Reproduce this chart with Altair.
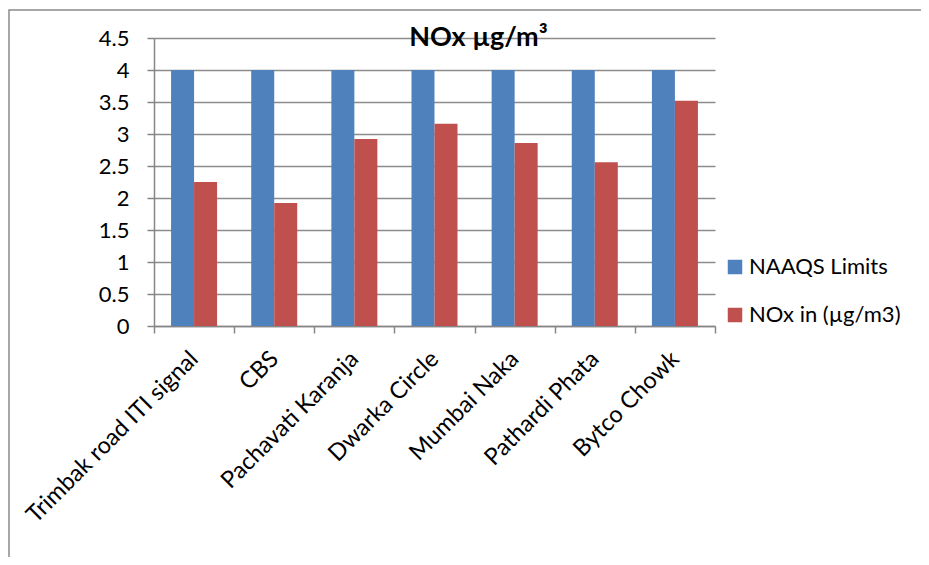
import altair as alt
import pandas as pd

sites = ["Trimbak road ITI signal", "CBS", "Pachavati Karanja", "Dwarka Circle",
         "Mumbai Naka", "Pathardi Phata", "Bytco Chowk"]
series_names = ["NAAQS Limits", "NOx  in (µg/m3)"]
naaqs = [4, 4, 4, 4, 4, 4, 4]
nox = [2.25, 1.92, 2.92, 3.16, 2.86, 2.56, 3.52]
y_ticks = [0, 0.5, 1, 1.5, 2, 2.5, 3, 3.5, 4, 4.5]
colors = ["#4F81BD", "#C0504D"]

rows = []
for s, a, b in zip(sites, naaqs, nox):
    rows.append({"site": s, "series": series_names[0], "value": a})
    rows.append({"site": s, "series": series_names[1], "value": b})
df = pd.DataFrame(rows)

FONT = "Lato"

bars = alt.Chart(df).mark_bar().encode(
    x=alt.X("site:N", sort=sites, title=None,
            scale=alt.Scale(paddingInner=0, paddingOuter=0),
            axis=alt.Axis(labelAngle=-45, tickBand="extent", labelAlign="right",
                          labelBaseline="middle", labelFontSize=23.5, labelColor="#000000",
                          labelFont=FONT, labelPadding=22, tickSize=7, tickColor="#868686",
                          tickWidth=1.5, domainColor="#868686", domainWidth=1.5,
                          grid=False, labelLimit=400)),
    xOffset=alt.XOffset("series:N", sort=series_names,
                        scale=alt.Scale(paddingInner=0, paddingOuter=0.742)),
    y=alt.Y("value:Q", title=None,
            scale=alt.Scale(domain=[0, 4.5], nice=False),
            axis=alt.Axis(values=y_ticks, format="~g", labelFontSize=22,
                          labelFont=FONT, labelColor="#000000", labelPadding=18,
                          tickSize=7, tickColor="#868686", tickWidth=1.5,
                          domainColor="#868686", domainWidth=1.5,
                          grid=True, gridColor="#8c8c8c", gridWidth=1.5)),
    color=alt.Color("series:N", sort=series_names,
                    scale=alt.Scale(domain=series_names, range=colors),
                    legend=alt.Legend(title=None, orient="none", legendX=570, legendY=218,
                                      symbolType="square", symbolSize=210,
                                      symbolStrokeWidth=0, labelFontSize=22,
                                      labelFont=FONT, labelColor="#000000",
                                      rowPadding=26, padding=0, labelOffset=3)),
)

# decorative chart-area frame (Excel style), partly outside the visible page
frame = alt.Chart(pd.DataFrame({"f": [0]})).mark_rect(
    filled=False, stroke="#8a8a8a", strokeWidth=1.5
).encode(
    x=alt.value(-145), x2=alt.value(820), y=alt.value(-28), y2=alt.value(600)
)

chart = alt.layer(frame, bars).properties(
    width=561,
    height=288,
    title=alt.TitleParams("NOx µg/m³", fontSize=27, font=FONT, fontWeight="bold",
                          color="#000000", anchor="middle", frame="group",
                          dx=44, offset=-43),
    padding={"left": 146, "top": 30, "right": 206, "bottom": 231},
    autosize=alt.AutoSizeParams(type="none"),
).configure_view(stroke=None)

chart.save("out.html", embed_options={"renderer": "svg", "actions": False})
